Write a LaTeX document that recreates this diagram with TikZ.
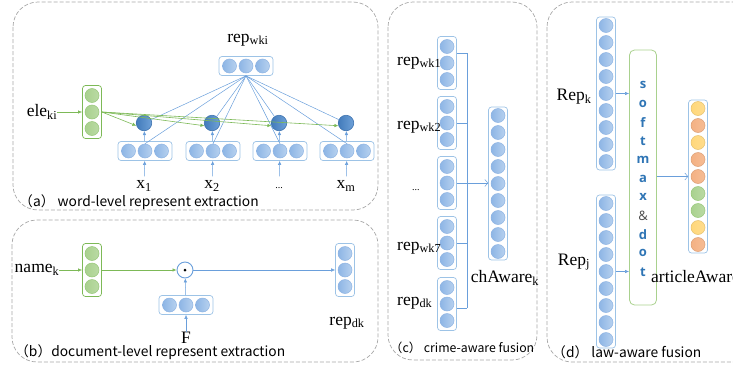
\documentclass[tikz,border=0pt]{standalone}
\usepackage{fontspec}
\setmainfont{Liberation Serif}
\newfontfamily\capfont{Noto Sans CJK SC}
\newfontfamily\smxfont{Open Sans}
\usetikzlibrary{arrows.meta}
\definecolor{sora}{HTML}{B7D1EF}
\definecolor{mizu}{HTML}{8DB5E5}
\definecolor{aoline}{HTML}{8EB4E3}
\definecolor{aobox}{HTML}{9DC3E6}
\definecolor{ai}{HTML}{4A89CF}
\definecolor{aiB}{HTML}{3F74B0}
\definecolor{sen}{HTML}{6A9FDB}
\definecolor{midori}{HTML}{A9D18E}
\definecolor{midoriB}{HTML}{7DB957}
\definecolor{daidai}{HTML}{F4B183}
\definecolor{kiiro}{HTML}{FFD77A}
\definecolor{hai}{HTML}{A8A8A8}
\definecolor{moji}{HTML}{2F75B5}

\begin{document}
\begin{tikzpicture}[x=1pt, y=-1pt,
    ball/.style={circle, inner sep=0, minimum size=14, draw=aoline, line width=0.5, left color=mizu, right color=sora},
    gball/.style={ball, draw=midoriB!80, left color=midori, right color=midori!80},
    oball/.style={ball, draw=daidai!90!black, left color=daidai, right color=daidai!85},
    yball/.style={ball, draw=kiiro!90!black, left color=kiiro, right color=kiiro!85},
    hball/.style={circle, inner sep=0, minimum size=15.5, draw=aiB, line width=0.6, left color=ai!90!black, right color=ai!80},
    vec/.style={draw=aobox, rounded corners=3, fill=white, inner sep=0, line width=0.7},
    vech/.style={vec, minimum width=54, minimum height=19},
    vecv/.style={vec, minimum width=19, minimum height=53},
    vecl/.style={vec, minimum width=19, minimum height=153},
    lbl/.style={inner sep=0, font=\fontsize{17.5}{20}\selectfont},
    captxt/.style={inner sep=0, anchor=west, font=\capfont\fontsize{13.8}{16}\selectfont},
    panel/.style={draw=hai, dash pattern=on 4pt off 2pt, rounded corners=25, line width=0.7},
    bline/.style={draw=sen, line width=0.5},
    barrow/.style={bline, -{Latex[length=4pt,width=3.5pt]}},
    garrow/.style={draw=midoriB, line width=0.6, -{Latex[length=4pt,width=3.5pt]}},
    oarrow/.style={bline, -{Straight Barb[length=3pt,width=7pt]}},
]
    \useasboundingbox (0,0) rectangle (733,367);

    % panels
    \draw[panel] (13,2) rectangle (378,210);
    \draw[panel] (12,220) rectangle (378,362);
    \draw[panel] (388,2) rectangle (537,360);
    \draw[panel] (547,2) rectangle (760,362);

    % (a) word level
    \node[vech] (repw) at (246,66) {};
    \foreach \k in {-1,0,1}
        \node[ball] at (246+16.5*\k,66) {};
    \node[lbl] (repwLbl) at (248,40) {rep\textsubscript{wki}};

    \node[vecv, draw=midoriB] (ele) at (92,112) {};
    \foreach \k in {-1,0,1}
        \node[gball] at (92,112+16.5*\k) {};
    \node[lbl] (eleLbl) at (42,112) {ele\textsubscript{ki}};
    \draw[garrow] (eleLbl) -- (ele);

    \foreach \i/\x/\txt in {1/145/x\textsubscript{1}, 2/213/x\textsubscript{2}, 3/280/{\fontsize{10}{12}\selectfont...}, 4/347/x\textsubscript{m}} {
        \node[vech] (xb\i) at (\x,151) {};
        \foreach \k in {-1,0,1}
            \node[ball] (xb\i c\k) at (\x+16.5*\k,151) {};
        \node[hball] (d\i) at (\x-1,123) {};
        \node[lbl, text height=12, text depth=5] (x\i) at (\x-1,185) {\txt};
        \draw[barrow] (x\i) -- (xb\i);
        \draw[barrow] (xb\i) -- (d\i);
        \draw[bline] (repw.south) -- (d\i);
        \draw[bline] (repw.south) -- (xb\i c0.north);
        \draw[garrow] (ele.east) -- (d\i.200);
    }
    \node[captxt] (capA) at (19,202) {（a） word-level represent extraction};

    % (b) document level
    \node[lbl] (nameLbl) at (37,270) {name\textsubscript{k}};
    \node[vecv, draw=midoriB] (nameVec) at (92,270) {};
    \foreach \k in {-1,0,1}
        \node[gball] at (92,270+16.5*\k) {};
    \node[circle, draw=sen, line width=0.9, fill=white, minimum size=16, inner sep=0] (odot) at (185,270) {};
    \fill (odot) circle (1.5);
    \node[vech] (fVec) at (186,305) {};
    \foreach \k in {-1,0,1}
        \node[ball] at (186+16.5*\k,305) {};
    \node[lbl] (fLbl) at (186,338) {F};
    \node[vecv] (repd) at (345,270) {};
    \foreach \k in {-1,0,1}
        \node[ball] at (345,270+16.5*\k) {};
    \node[lbl] (repdLbl) at (347,323) {rep\textsubscript{dk}};
    \draw[garrow] (nameLbl) -- (nameVec);
    \draw[garrow] (nameVec) -- (odot);
    \draw[barrow] (odot) -- (repd);
    \draw[barrow] (fVec) -- (odot);
    \draw[barrow] (fLbl) -- (fVec);
    \node[captxt] (capB) at (15,352) {（b）document-level represent extraction};

    % (c) crime-aware fusion
    \foreach \i/\y/\lx/\ly/\txt in {1/63/397/63/rep\textsubscript{wk1}, 2/123/397/127/rep\textsubscript{wk2}, 3/183/412/190/{\fontsize{10}{12}\selectfont...}, 4/243/397/248/rep\textsubscript{wk7}, 5/304/397/303/rep\textsubscript{dk}} {
        \node[vecv] (c\i) at (447,\y) {};
        \foreach \k in {-1,0,1}
            \node[ball] at (447,\y+16.5*\k) {};
        \node[lbl, anchor=west] (cl\i) at (\lx,\ly) {\txt};
    }
    \node[vecl] (chA) at (498,183.5) {};
    \foreach \k in {-4,...,4}
        \node[ball] at (498,183.5+17*\k) {};
    \node[lbl] (chALbl) at (505,278) {chAware\textsubscript{k}};

    \coordinate (busTop) at (467,53);
    \coordinate (busBot) at (467,308);
    \draw[bline] (busTop) -- (busBot);
    \draw[bline] ([yshift=10pt]c1.east) -- (busTop);
    \foreach \i in {2,3,4}
        \draw[bline] (c\i.east) -- (c\i.east -| busTop);
    \draw[bline] ([yshift=-4pt]c5.east) -- (busBot);
    \draw[oarrow] (c3.east) -- (c3.east -| chA.west);
    \node[captxt, font=\capfont\fontsize{12.3}{15}\selectfont] (capC) at (390,348) {（c） crime-aware fusion};

    % (d) law-aware fusion
    \node[vecl] (repK) at (606,93.5) {};
    \node[vecl] (repJ) at (606,271.5) {};
    \foreach \k in {-4,...,4} {
        \node[ball] at (606,93.5+17*\k) {};
        \node[ball] at (606,271.5+17*\k) {};
    }
    \node[lbl] (repKLbl) at (574,97) {Rep\textsubscript{k}};
    \node[lbl] (repJLbl) at (574,262) {Rep\textsubscript{j}};

    \node[draw=midori, line width=0.8, rounded corners=5, minimum width=27, minimum height=255, inner sep=0] (smx) at (643,177.5) {};
    \foreach \ch/\col [count=\i from 0] in {s/moji, o/moji, f/moji, t/moji, m/moji, a/moji, x/moji, \mdseries\&/black!70, d/moji, o/moji, t/moji}
        \node[inner sep=0, text=\col, font=\smxfont\bfseries\fontsize{13}{15}\selectfont] (smx\i) at (643,85+18.7*\i) {\ch};

    \node[vecl] (art) at (698,176.5) {};
    \foreach \k/\sty in {-4/yball, -3/oball, -2/yball, -1/oball, 0/oball, 1/gball, 2/gball, 3/yball, 4/oball}
        \node[\sty] at (698,176.5+17*\k) {};
    \node[lbl, anchor=west] (artLbl) at (651,277) {articleAware};

    \draw[barrow] (repK.east) -- (repK.east -| smx.west);
    \draw[barrow] (repJ.east) -- (repJ.east -| smx.west);
    \draw[oarrow] (art.west -| smx.east) -- (art.west);
    \node[captxt] (capD) at (552,352) {（d） law-aware fusion};
\end{tikzpicture}
\end{document}
